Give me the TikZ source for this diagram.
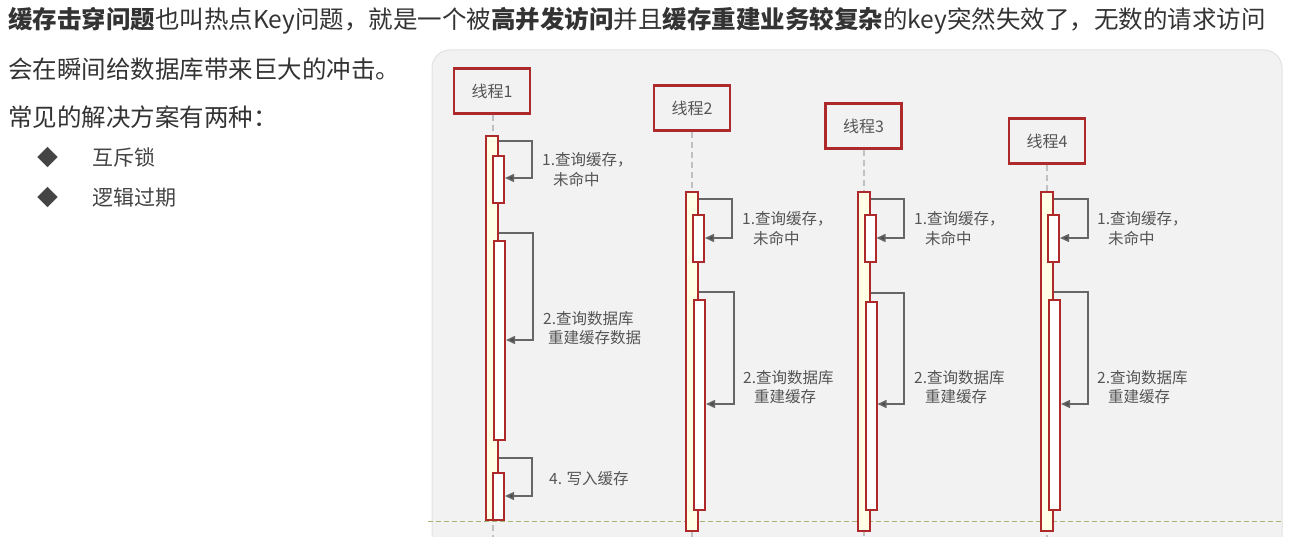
\documentclass[tikz,border=0pt]{standalone}
\usepackage{fontspec}
\setmainfont{Noto Sans CJK SC}
\usetikzlibrary{arrows.meta}
\definecolor{textdark}{HTML}{333333}
\definecolor{bulletgray}{HTML}{444444}
\definecolor{panelgray}{HTML}{F2F2F2}
\definecolor{paneledge}{HTML}{E2E2E2}
\definecolor{boxred}{HTML}{AE2A2A}
\definecolor{barfill}{HTML}{FFFFE6}
\definecolor{lifegray}{HTML}{C0C0C0}
\definecolor{callgray}{HTML}{666666}
\definecolor{headgray}{HTML}{4A4A4A}
\definecolor{labelgray}{HTML}{555555}
\definecolor{olivedash}{HTML}{A3B670}
\tikzset{
  maintext/.style={anchor=base west, inner sep=0pt, text=textdark, font=\fontsize{24.5}{30}\selectfont},
  itemtext/.style={anchor=base west, inner sep=0pt, text=bulletgray, font=\fontsize{21}{26}\selectfont},
  threadbox/.style={draw=boxred, line width=2.2pt, fill=panelgray, minimum width=76pt, minimum height=45pt, inner sep=0pt, text=labelgray, font=\fontsize{16}{20}\selectfont},
  outerbar/.style={draw=boxred, line width=2pt, fill=barfill, minimum width=12pt, inner sep=0pt},
  innerbar/.style={draw=boxred, line width=2pt, fill=white, minimum width=11pt, inner sep=0pt},
  lifeline/.style={draw=lifegray, line width=1.5pt, dash pattern=on 6pt off 4pt},
  call/.style={draw=callgray, line width=1.5pt, -{Triangle[length=9pt,width=8pt,fill=headgray]}},
  calllabel/.style={anchor=west, inner sep=0pt, text=labelgray, align=left, font=\fontsize{15.5}{19.5}\selectfont},
}
\begin{document}
\begin{tikzpicture}[x=1pt,y=-1pt]
\useasboundingbox (0,0) rectangle (1292,537);
\clip (0,0) rectangle (1292,537);

% text on the left
\node[maintext] (l1) at (8,29) {\textbf{缓存击穿问题}也叫热点Key问题，就是一个被\textbf{高并发访问}并且\textbf{缓存重建业务较复杂}的key突然失效了，无数的请求访问};
\node[maintext] (l2) at (8,79) {会在瞬间给数据库带来巨大的冲击。};
\node[maintext] (l3) at (8,127) {常见的解决方案有两种：};
\node[itemtext] (d1) at (37,165.5) {◆};
\node[itemtext] (i1t) at (92,165.5) {互斥锁};
\node[itemtext] (d2) at (37,205.5) {◆};
\node[itemtext] (i2t) at (92,205.5) {逻辑过期};

% panel
\path[fill=panelgray, draw=paneledge, line width=1pt, rounded corners=18pt] (432,50) rectangle (1282,580);

% thread boxes
\node[threadbox] (t1) at (492,91) {线程1};
\node[threadbox] (t2) at (692,108) {线程2};
\node[threadbox] (t3) at (863.5,126) {线程3};
\node[threadbox] (t4) at (1047,141) {线程4};

\coordinate (e1) at (493,537);
\coordinate (e2) at (692,537);
\coordinate (e3) at (864,537);
\coordinate (e4) at (1047,537);
\draw[lifeline] (t1.south -| e1) -- (e1);
\draw[lifeline] (t2.south -| e2) -- (e2);
\draw[lifeline] (t3.south -| e3) -- (e3);
\draw[lifeline] (t4.south -| e4) -- (e4);

% dashed separator
\draw[olivedash, line width=1pt, dash pattern=on 5pt off 3pt] (428,521) -- (1282,521);

% thread 1 bars
\node[outerbar, minimum height=384pt] (b1) at (492,328) {};
\node[innerbar, minimum height=47pt] (c11) at (498.5,179.5) {};
\node[innerbar, minimum height=199pt] (c12) at (499.5,340.5) {};
\node[innerbar, minimum height=47pt] (c13) at (498.5,496.5) {};

% thread 2-4 bars
\node[outerbar, minimum height=339pt] (b2) at (692,361.5) {};
\node[innerbar, minimum height=47pt] (c21) at (698.5,238.5) {};
\node[innerbar, minimum height=210pt] (c22) at (699.5,405) {};

\node[outerbar, minimum height=339pt] (b3) at (864,361.5) {};
\node[innerbar, minimum height=47pt] (c31) at (870,238.5) {};
\node[innerbar, minimum height=208pt] (c32) at (871,406) {};

\node[outerbar, minimum height=339pt] (b4) at (1047,361.5) {};
\node[innerbar, minimum height=47pt] (c41) at (1053.5,238.5) {};
\node[innerbar, minimum height=210pt] (c42) at (1054.5,405) {};

% self calls thread 1
\draw[call] (b1.east |- 0,141) -| (532,178) -- (c11.east |- 0,178);
\draw[call] (b1.east |- 0,233) -| (533,340) -- (c12.east |- 0,340);
\draw[call] (b1.east |- 0,458) -| (532,496) -- (c13.east |- 0,496);
\node[calllabel] (a11) at (542,169.5) {1.查询缓存，\\\hspace*{11pt}未命中};
\node[calllabel] (a12) at (543,328) {2.查询数据库\\\hspace*{5pt}重建缓存数据};
\node[calllabel] (a13) at (549,479) {4. 写入缓存};

% self calls threads 2-4
\draw[call] (b2.east |- 0,199) -| (732,238) -- (c21.east |- 0,238);
\draw[call] (b2.east |- 0,292) -| (734,404) -- (c22.east |- 0,404);
\node[calllabel] (a21) at (742,228.5) {1.查询缓存，\\\hspace*{11pt}未命中};
\node[calllabel] (a22) at (743,387) {2.查询数据库\\\hspace*{11pt}重建缓存};

\draw[call] (b3.east |- 0,199) -| (904,238) -- (c31.east |- 0,238);
\draw[call] (b3.east |- 0,293) -| (904,404) -- (c32.east |- 0,404);
\node[calllabel] (a31) at (914,228.5) {1.查询缓存，\\\hspace*{11pt}未命中};
\node[calllabel] (a32) at (914,387) {2.查询数据库\\\hspace*{11pt}重建缓存};

\draw[call] (b4.east |- 0,199) -| (1088,238) -- (c41.east |- 0,238);
\draw[call] (b4.east |- 0,292) -| (1088,404) -- (c42.east |- 0,404);
\node[calllabel] (a41) at (1097,228.5) {1.查询缓存，\\\hspace*{11pt}未命中};
\node[calllabel] (a42) at (1097,387) {2.查询数据库\\\hspace*{11pt}重建缓存};
\end{tikzpicture}
\end{document}
